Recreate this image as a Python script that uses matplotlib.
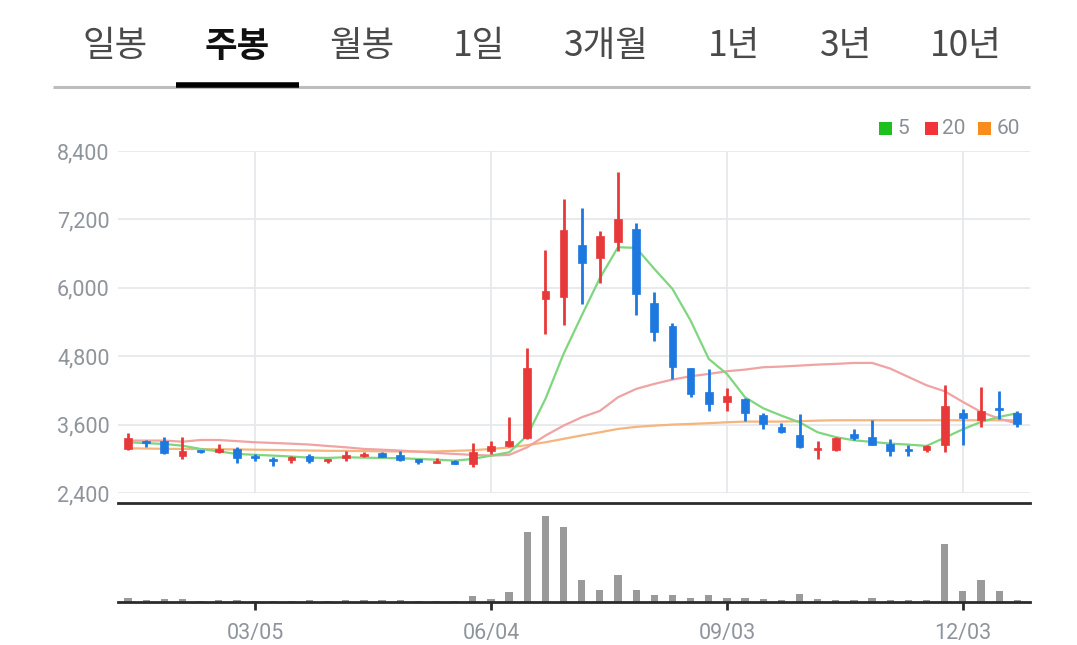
import matplotlib
matplotlib.use("Agg")
import matplotlib.pyplot as plt
from matplotlib.patches import Rectangle
import numpy as np

plt.rcParams['font.family'] = ['Roboto', 'Noto Sans CJK KR', 'DejaVu Sans']

# ---- data (weekly candles) ----
opens  = [3180, 3320, 3320, 3045, 3150, 3115, 3175, 3055, 3000, 2985,
          3055, 2970, 3010, 3045, 3095, 3070, 3000, 2930, 2970, 2910,
          3145, 3220, 3370, 5805, 5835, 6750, 6525, 6800, 7035, 5730,
          5335, 4590, 4180, 3990, 4050, 3760, 3555, 3425, 3160, 3150,
          3440, 3385, 3265, 3180, 3150, 3240, 3795, 3675, 3900, 3795]
closes = [3370, 3280, 3100, 3145, 3120, 3175, 3015, 3015, 2970, 3040,
          2970, 3000, 3070, 3085, 3040, 2985, 2940, 2970, 2910, 3115,
          3230, 3320, 4600, 5950, 7015, 6430, 6915, 7210, 5895, 5220,
          4605, 4140, 3965, 4110, 3805, 3610, 3465, 3200, 3185, 3365,
          3365, 3250, 3130, 3130, 3225, 3930, 3715, 3835, 3850, 3615]
highs  = [3450, 3325, 3380, 3380, 3160, 3260, 3200, 3085, 3030, 3045,
          3085, 3000, 3145, 3125, 3125, 3145, 3000, 3010, 2975, 3280,
          3320, 3730, 4940, 6670, 7560, 7400, 7005, 8030, 7135, 5935,
          5385, 4590, 4580, 4240, 4060, 3805, 3630, 3790, 3310, 3385,
          3520, 3675, 3355, 3250, 3250, 4300, 3865, 4260, 4185, 3835]
lows   = [3160, 3200, 3090, 2997, 3110, 3110, 2930, 2968, 2880, 2930,
          2930, 2930, 2970, 3040, 3030, 2970, 2910, 2925, 2905, 2850,
          3085, 3200, 3350, 5190, 5350, 5720, 6085, 6650, 5530, 5075,
          4400, 4080, 3830, 3845, 3670, 3525, 3455, 3190, 3000, 3130,
          3325, 3240, 3050, 3050, 3120, 3120, 3250, 3560, 3705, 3560]
volumes = [13, 5, 10, 10, 3, 5, 5, 2, 2, 2,
           5, 2, 5, 5, 5, 5, 2, 2, 2, 17,
           10, 30, 210, 258, 223, 65, 37, 80, 37, 20,
           20, 13, 20, 13, 13, 9, 5, 25, 9, 5,
           5, 13, 5, 5, 5, 172, 33, 65, 33, 5]
ma5  = [3290, 3275, 3260, 3230, 3173, 3130, 3085, 3070, 3056, 3040,
        3020, 3015, 3027, 3020, 3015, 3010, 2997, 2985, 2968, 2997,
        3056, 3114, 3407, 4050, 4840, 5513, 6170, 6712, 6700, 6332,
        5981, 5425, 4752, 4489, 4080, 3887, 3758, 3641, 3465, 3380,
        3325, 3296, 3267, 3249, 3226, 3370, 3518, 3647, 3735, 3800]
ma20 = [3320, 3320, 3320, 3300, 3330, 3330, 3310, 3290, 3278, 3265,
        3250, 3225, 3202, 3173, 3160, 3144, 3125, 3103, 3085, 3068,
        3056, 3068, 3202, 3407, 3582, 3729, 3840, 4080, 4226, 4314,
        4390, 4448, 4489, 4536, 4565, 4606, 4618, 4635, 4653, 4665,
        4682, 4682, 4583, 4436, 4290, 4185, 3998, 3822, 3705, 3617]
ma60 = [3185, 3180, 3175, 3173, 3170, 3168, 3165, 3160, 3155, 3150,
        3145, 3140, 3138, 3135, 3130, 3128, 3126, 3130, 3140, 3150,
        3173, 3200, 3240, 3290, 3350, 3410, 3465, 3524, 3560, 3582,
        3600, 3612, 3625, 3641, 3653, 3653, 3653, 3660, 3670, 3676,
        3676, 3676, 3676, 3676, 3676, 3676, 3676, 3676, 3676, 3676]

xtick_pos = [7, 20, 33, 46]
xtick_labels = ["03/05", "06/04", "09/03", "12/03"]
ytick_vals = [2400, 3600, 4800, 6000, 7200, 8400]
tabs = ["일봉", "주봉", "월봉", "1일", "3개월", "1년", "3년", "10년"]
tab_x = [115, 237, 362, 479, 606, 734, 846, 966]
legend_labels = ["5", "20", "60"]

# ---- figure ----
W, H = 1077, 645
fig = plt.figure(figsize=(W / 100, H / 100), dpi=100)
fig.patch.set_facecolor("white")

def px_axes(left, top, right, bottom):
    return fig.add_axes([left / W, 1 - bottom / H, (right - left) / W, (bottom - top) / H])

UP, DOWN = "#e8393a", "#1d78e0"
GRID = "#e6e8ec"
LABEL = "#8e949b"

# tabs
for t, x in zip(tabs, tab_x):
    active = (t == "주봉")
    fig.text(x / W, 1 - 46 / H, t, ha="center", va="center", fontsize=25.5,
             family=['Noto Sans CJK KR', 'DejaVu Sans'],
             fontweight="bold" if active else "medium",
             color="#111111" if active else "#4a4a4a")
fig.add_artist(plt.Line2D([53 / W, 1030 / W], [1 - 86.5 / H] * 2, color="#bdbdbd",
                          lw=2.2, solid_capstyle="butt"))
fig.add_artist(plt.Line2D([176 / W, 299 / W], [1 - 85 / H] * 2, color="#000000",
                          lw=4, solid_capstyle="butt"))

# price axes
ax = px_axes(118, 151, 1030, 493)
x = np.arange(len(closes))
ax.set_xlim(-0.55, 49.7)
ax.set_ylim(2400, 8400)
for sp in ax.spines.values():
    sp.set_visible(False)
ax.set_yticks(ytick_vals)
ax.set_yticklabels([f"{v:,}" for v in ytick_vals])
ax.set_xticks(xtick_pos)
ax.tick_params(axis="x", length=0, labelbottom=False)
ax.tick_params(axis="y", length=0, pad=6, labelsize=15.5, labelcolor=LABEL)
ax.grid(True, color=GRID, lw=1.3)
ax.set_axisbelow(True)

ax.plot(x, ma60, color="#f5b57c", lw=1.6, zorder=2)
ax.plot(x, ma20, color="#f0a3a3", lw=1.6, zorder=2)
ax.plot(x, ma5, color="#7fd67f", lw=1.6, zorder=2)

bw = 0.42
for i in range(len(closes)):
    o, c, h, l = opens[i], closes[i], highs[i], lows[i]
    col = UP if c >= o else DOWN
    ax.vlines(x[i], l, h, color=col, lw=2.0, zorder=3)
    bot = min(o, c)
    hgt = max(abs(c - o), 25)
    ax.add_patch(Rectangle((x[i] - bw / 2, bot), bw, hgt, facecolor=col,
                           edgecolor=col, lw=0.5, zorder=4))

# legend
leg_cols = ["#1ec01e", "#f2333a", "#f98c1e"]
leg_sq = [879, 925, 978]
leg_tx = [897, 942, 997]
for lab, c, sx, tx in zip(legend_labels, leg_cols, leg_sq, leg_tx):
    fig.patches.append(Rectangle((sx / W, 1 - 135 / H), 13 / W, 13 / H,
                                 facecolor=c, edgecolor="none", transform=fig.transFigure))
    fig.text(tx / W, 1 - 128.5 / H, lab, ha="left", va="center", fontsize=15, color="#8a8f96")

# volume axes
vx = px_axes(118, 503, 1030, 602)
vx.set_xlim(-0.55, 49.7)
vx.set_ylim(0, max(volumes) * 1.147)
vx.bar(x, volumes, width=0.4, color="#9a9a9a", zorder=2)
for k in ["left", "right"]:
    vx.spines[k].set_visible(False)
vx.spines["top"].set_color("#2b2b2b")
vx.spines["top"].set_linewidth(2)
vx.spines["bottom"].set_color("#2b2b2b")
vx.spines["bottom"].set_linewidth(2)
vx.set_yticks([])
vx.set_xticks(xtick_pos)
vx.set_xticklabels(xtick_labels)
vx.tick_params(axis="x", length=6, width=2, color="#2b2b2b", pad=9,
               labelsize=15.5, labelcolor=LABEL)

fig.savefig("out.png", dpi=100, facecolor="white")
